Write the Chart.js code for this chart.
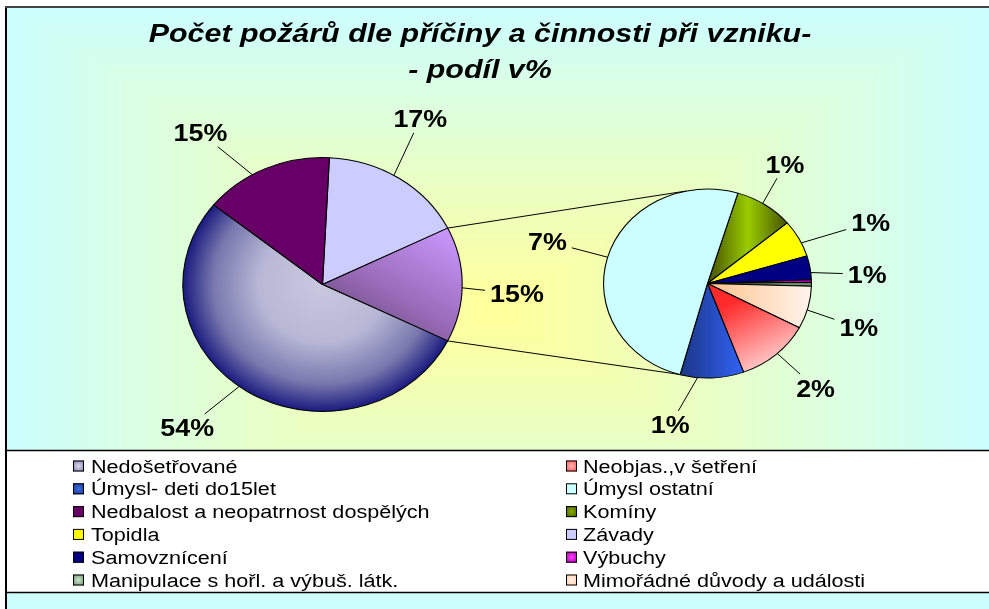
<!DOCTYPE html>
<html>
<head>
<meta charset="utf-8">
<script src="https://cdn.jsdelivr.net/npm/chart.js@4.4.0/dist/chart.umd.min.js"></script>
<style>
  html, body { margin: 0; padding: 0; background: #fff; }
  #wrap { position: relative; width: 989px; height: 609px; }
  #wrap canvas { position: absolute; left: 0; top: 0; }
</style>
</head>
<body>
<div id="wrap">
  <canvas id="mainPie" width="989" height="609"></canvas>
  <canvas id="subPie" width="989" height="609"></canvas>
</div>
<script>
// legend order (two columns, row by row)
const legendNames = ['Nedošetřované', 'Neobjas.,v šetření', 'Úmysl- deti do15let', 'Úmysl ostatní',
  'Nedbalost a neopatrnost dospělých', 'Komíny', 'Topidla', 'Závady', 'Samovznícení', 'Výbuchy',
  'Manipulace s hořl. a výbuš. látk.', 'Mimořádné důvody a události'];

// secondary pie, clockwise (share of all fires in %)
const subLabels = ['Komíny', 'Topidla', 'Samovznícení', 'Výbuchy', 'Manipulace s hořl. a výbuš. látk.',
  'Mimořádné důvody a události', 'Neobjas.,v šetření', 'Úmysl- deti do15let', 'Úmysl ostatní'];
const subValues = [1.35, 0.93, 0.6, 0.06, 0.1, 1.07, 1.7, 1.45, 7.4];

// main pie, clockwise; 'Ostatní' is the slice split out into the small pie
const mainLabels = ['Závady', 'Ostatní', 'Nedošetřované', 'Nedbalost a neopatrnost dospělých'];
const mainValues = [16.9, subValues.reduce((a, b) => a + b, 0), 53.5, 15.0];

const titleLines = ['Počet požárů dle příčiny a činnosti při vzniku-', '- podíl v%'];

// flat colours of the slices
const flat = {
  'Nedošetřované': '#9c9cc8', 'Ostatní': '#9a6cba', 'Závady': '#ccccff',
  'Nedbalost a neopatrnost dospělých': '#660066', 'Komíny': '#88aa00', 'Topidla': '#ffff00',
  'Samovznícení': '#000080', 'Výbuchy': '#cc00cc', 'Manipulace s hořl. a výbuš. látk.': '#6b8f6b',
  'Mimořádné důvody a události': '#ffe0c8', 'Neobjas.,v šetření': '#ff7070',
  'Úmysl- deti do15let': '#2850c0', 'Úmysl ostatní': '#ccffff'
};
// gradient fills, coordinates relative to pie centre in radius units
const grads = {
  'Nedošetřované': { radial: true, stops: [[0, '#c8c8e0'], [0.45, '#b8b8d6'], [0.78, '#7878ae'], [1, '#1a1a80']] },
  'Ostatní': { line: [0.15, 0.6, 0.85, -0.5], stops: [[0, '#553a60'], [0.5, '#9a6cba'], [1, '#cc99ff']] },
  'Komíny': { line: [0.03, 0, 0.75, 0], stops: [[0, '#4a5800'], [0.5, '#99cc00'], [1, '#4a5800']] },
  'Mimořádné důvody a události': { line: [0.1, 0, 1, 0], stops: [[0, '#ffc896'], [1, '#fff4ec']] },
  'Neobjas.,v šetření': { line: [0.2, 0.22, 0.55, 0.85], stops: [[0, '#ff2a2a'], [1, '#ffc4c4']] },
  'Úmysl- deti do15let': { line: [-0.3, 0, 0.4, 0], stops: [[0, '#1a3480'], [1, '#3366ff']] }
};
const swatch = {
  'Nedošetřované': ['#8080b0', '#dcdcee'], 'Neobjas.,v šetření': ['#ff5a5a', '#ffb4b4'],
  'Úmysl- deti do15let': ['#1c3a9a', '#3a6ae0'], 'Úmysl ostatní': ['#ccffff', '#ccffff'],
  'Nedbalost a neopatrnost dospělých': ['#660066', '#660066'], 'Komíny': ['#4a5e00', '#88b000'],
  'Topidla': ['#ffff00', '#ffff00'], 'Závady': ['#ccccff', '#ccccff'],
  'Samovznícení': ['#000080', '#000080'], 'Výbuchy': ['#b000b0', '#ff40ff'],
  'Manipulace s hořl. a výbuš. látk.': ['#6e946e', '#cce8cc'], 'Mimořádné důvody a události': ['#ffd0b0', '#fff0e4']
};

const FONT = '"Liberation Sans", Arial, sans-serif';

function sliceFill(labels, R) {
  return (c) => {
    const name = labels[c.dataIndex];
    const area = c.chart.chartArea;
    const g = grads[name];
    if (!area || !g) return flat[name];
    const cx = (area.left + area.right) / 2, cy = (area.top + area.bottom) / 2;
    const ctx = c.chart.ctx;
    let grad;
    if (g.radial) grad = ctx.createRadialGradient(cx, cy, 0, cx, cy, R);
    else grad = ctx.createLinearGradient(cx + g.line[0] * R, cy + g.line[1] * R, cx + g.line[2] * R, cy + g.line[3] * R);
    g.stops.forEach(s => grad.addColorStop(s[0], s[1]));
    return grad;
  };
}

function drawText(ctx, text, x, y, font, align, sx) {
  ctx.save();
  ctx.translate(x, y);
  ctx.scale(sx, 1);
  ctx.font = font;
  ctx.textAlign = align;
  ctx.textBaseline = 'alphabetic';
  ctx.fillStyle = '#000';
  ctx.fillText(text, 0, 0);
  ctx.restore();
}

let bgImage = null;
const frame = {
  id: 'frame',
  beforeDraw(chart) {
    const ctx = chart.ctx;
    const w = chart.width, h = chart.height;
    if (!bgImage) {
      bgImage = ctx.createImageData(w, h);
      const d = bgImage.data;
      const cx = 495, cy = 308, hw = 490, hh = 301;
      for (let y = 0; y < h; y++) {
        for (let x = 0; x < w; x++) {
          const k = (y * w + x) * 4;
          if (x < 6 || y < 7) { d[k] = d[k + 1] = d[k + 2] = 255; d[k + 3] = 255; continue; }
          const t = Math.min(1, Math.max(Math.abs(x - cx) / hw, Math.abs(y - cy) / hh));
          d[k] = 255 + (204 - 255) * t;
          d[k + 1] = 255;
          d[k + 2] = 153 + (255 - 153) * t;
          d[k + 3] = 255;
        }
      }
    }
    ctx.putImageData(bgImage, 0, 0);

    ctx.save();
    // legend box
    ctx.fillStyle = '#fff';
    ctx.fillRect(6, 450, w - 6, 142);
    ctx.strokeStyle = '#000';
    ctx.lineWidth = 1.5;
    ctx.beginPath();
    ctx.moveTo(6, 450.5); ctx.lineTo(w, 450.5);
    ctx.moveTo(6, 592.5); ctx.lineTo(w, 592.5);
    ctx.stroke();
    // outer frame
    ctx.lineWidth = 2;
    ctx.beginPath();
    ctx.moveTo(6, 7); ctx.lineTo(6, h);
    ctx.stroke();
    ctx.strokeStyle = '#444';
    ctx.beginPath();
    ctx.moveTo(5, 7); ctx.lineTo(w, 7);
    ctx.stroke();
    ctx.restore();

    // title
    drawText(ctx, titleLines[0], 480, 42, 'italic bold 26px ' + FONT, 'center', 1.17);
    drawText(ctx, titleLines[1], 480, 78, 'italic bold 26px ' + FONT, 'center', 1.17);

    // legend
    legendNames.forEach((name, i) => {
      const col = i % 2, row = Math.floor(i / 2);
      const y = 466 + row * 22.8;
      const sx = col === 0 ? 73 : 566;
      const tx = col === 0 ? 91 : 583;
      const [edge, mid] = swatch[name];
      const g = ctx.createRadialGradient(sx + 5.5, y, 0, sx + 5.5, y, 7);
      g.addColorStop(0, mid);
      g.addColorStop(1, edge);
      ctx.fillStyle = g;
      ctx.fillRect(sx, y - 5.5, 11, 11);
      ctx.strokeStyle = '#000';
      ctx.lineWidth = 1;
      ctx.strokeRect(sx + 0.5, y - 5, 10, 10);
      drawText(ctx, name, tx, y + 6.5, '18px ' + FONT, 'left', 1.2);
    });
  }
};

// pies are drawn a bit wider than high, as in the original picture
const stretch = {
  id: 'stretch',
  beforeDatasetsDraw(chart, args, opts) {
    const arc = chart.getDatasetMeta(0).data[0];
    const ctx = chart.ctx;
    ctx.save();
    ctx.translate(arc.x, arc.y);
    ctx.scale(opts.sx, 1);
    ctx.translate(-arc.x, -arc.y);
  },
  afterDatasetsDraw(chart) {
    chart.ctx.restore();
  }
};

// percentage labels outside the slices; nudge = [angle shift in degrees, distance from the rim]
const sliceLabels = {
  id: 'sliceLabels',
  afterDraw(chart, args, opts) {
    const ctx = chart.ctx;
    const values = chart.data.datasets[0].data;
    const font = 'bold 24px ' + FONT;
    ctx.save();
    chart.getDatasetMeta(0).data.forEach((arc, i) => {
      const pct = Math.round(values[i]);
      if (!pct) return;
      const [shift, off] = opts.nudge[i];
      const mid = (arc.startAngle + arc.endAngle) / 2;
      const a = mid + shift * Math.PI / 180;
      const R = arc.outerRadius;
      const pt = (r, ang) => [arc.x + opts.sx * r * Math.cos(ang), arc.y + r * Math.sin(ang)];
      const [tx, ty] = pt(R + off, a);
      const text = pct + '%';
      ctx.font = font;
      const w = ctx.measureText(text).width * 1.12;
      const [ex, ey] = pt(R, mid + shift * Math.PI / 360);
      const dx = ex - tx, dy = ey - ty;
      const t = Math.min(Math.abs((w / 2 + 5) / dx), Math.abs(14 / dy));
      if (t < 1) {
        ctx.beginPath();
        ctx.moveTo(ex, ey);
        ctx.lineTo(tx + dx * t, ty + dy * t);
        ctx.strokeStyle = '#000';
        ctx.lineWidth = 1;
        ctx.stroke();
      }
      drawText(ctx, text, tx, ty + 8.5, font, 'center', 1.12);
    });
    ctx.restore();
  }
};

const mainTotal = mainValues.reduce((a, b) => a + b, 0);
const mainChart = new Chart(document.getElementById('mainPie'), {
  type: 'pie',
  data: {
    labels: mainLabels,
    datasets: [{
      data: mainValues,
      backgroundColor: sliceFill(mainLabels, 127),
      borderColor: '#000',
      borderWidth: 1
    }]
  },
  options: {
    responsive: false,
    animation: false,
    events: [],
    // the split-out slice faces the small pie
    rotation: 90 - (mainValues[0] + mainValues[1] / 2) / mainTotal * 360,
    radius: 127,
    layout: { padding: { left: 200, right: 544, top: 180, bottom: 220 } },
    plugins: {
      legend: { display: false },
      tooltip: { enabled: false },
      stretch: { sx: 1.1 },
      sliceLabels: { sx: 1.1, nudge: [[-5, 61], [3, 50], [8, 62], [-12, 61]] }
    }
  },
  plugins: [frame, stretch, sliceLabels]
});

// lines joining the split-out slice to the small pie
const connectors = {
  id: 'connectors',
  afterDraw(chart, args, opts) {
    const big = mainChart.getDatasetMeta(0).data[1];
    const small = chart.getDatasetMeta(0).data[0];
    const onArc = (arc, ang, sx) => [arc.x + sx * arc.outerRadius * Math.cos(ang), arc.y + arc.outerRadius * Math.sin(ang)];
    const toRad = deg => (deg - 90) * Math.PI / 180;
    const p1 = onArc(big, big.startAngle, 1.1), p2 = onArc(big, big.endAngle, 1.1);
    const q1 = onArc(small, toRad(opts.upper), 1.1), q2 = onArc(small, toRad(opts.lower), 1.1);
    const ctx = chart.ctx;
    ctx.save();
    ctx.strokeStyle = '#000';
    ctx.lineWidth = 1;
    ctx.beginPath();
    ctx.moveTo(p1[0], p1[1]); ctx.lineTo(q1[0], q1[1]);
    ctx.moveTo(p2[0], p2[1]); ctx.lineTo(q2[0], q2[1]);
    ctx.stroke();
    ctx.restore();
  }
};

const subChart = new Chart(document.getElementById('subPie'), {
  type: 'pie',
  data: {
    labels: subLabels,
    datasets: [{
      data: subValues,
      backgroundColor: sliceFill(subLabels, 94.5),
      borderColor: '#000',
      borderWidth: 1
    }]
  },
  options: {
    responsive: false,
    animation: false,
    events: [],
    rotation: 17,
    radius: 94.5,
    layout: { padding: { left: 650, right: 224, top: 230, bottom: 272 } },
    plugins: {
      legend: { display: false },
      tooltip: { enabled: false },
      stretch: { sx: 1.1 },
      sliceLabels: {
        sx: 1.1,
        nudge: [[-3, 44], [6, 66], [6, 51], [0, 50], [0, 50], [3, 50], [-2, 49], [16, 51], [0, 57]]
      },
      connectors: { upper: -12, lower: 196 }
    }
  },
  plugins: [connectors, stretch, sliceLabels]
});
</script>
</body>
</html>
